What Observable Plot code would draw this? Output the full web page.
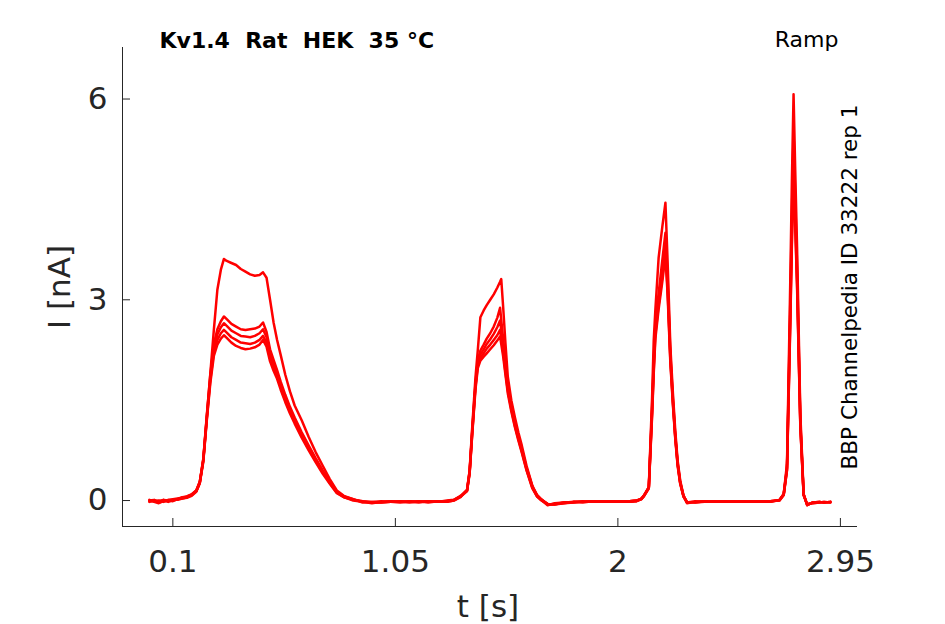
<!DOCTYPE html>
<html><head><meta charset="utf-8">
<script src="https://cdn.jsdelivr.net/npm/d3@7"></script>
<script src="https://cdn.jsdelivr.net/npm/@observablehq/plot@0.6"></script>
<style>
html,body{margin:0;padding:0;background:#fff;}
svg text{white-space:pre;}
</style></head><body><div id="chart"></div>
<script>
// time [s]
const time = [
0, 0.02, 0.04, 0.06, 0.08, 0.10, 0.12, 0.14, 0.16, 0.18,
0.20, 0.215, 0.23, 0.245, 0.26, 0.275, 0.29, 0.305, 0.318, 0.33,
0.35, 0.37, 0.39, 0.41, 0.43, 0.45, 0.47, 0.485, 0.50, 0.515,
0.53, 0.545, 0.56, 0.58, 0.60, 0.62, 0.65, 0.68, 0.71, 0.74,
0.77, 0.80, 0.83, 0.87, 0.91, 0.95, 0.99, 1.03, 1.07, 1.11,
1.15, 1.19, 1.23, 1.27, 1.30, 1.328, 1.356, 1.367, 1.378, 1.392,
1.402, 1.413, 1.427, 1.44, 1.455, 1.47, 1.485, 1.497, 1.502, 1.51,
1.52, 1.53, 1.545, 1.56, 1.575, 1.59, 1.61, 1.635, 1.655, 1.67,
1.70, 1.73, 1.77, 1.81, 1.85, 1.89, 1.93, 1.97, 2.01, 2.05,
2.08, 2.10, 2.11, 2.132, 2.146, 2.153, 2.16, 2.174, 2.19, 2.203,
2.212, 2.224, 2.235, 2.245, 2.255, 2.266, 2.28, 2.295, 2.33, 2.37,
2.41, 2.45, 2.49, 2.53, 2.57, 2.61, 2.65, 2.69, 2.708, 2.722,
2.736, 2.743, 2.75, 2.757, 2.765, 2.779, 2.793, 2.808, 2.83, 2.86,
2.88, 2.907];

// current [nA], one array per sweep
const sweep1 = [
0.00,-0.02,-0.04,-0.01,0.00,0.02,0.03,0.04,0.06,0.09,
0.15,0.28,0.62,1.25,1.90,2.55,3.15,3.45,3.61,3.58,
3.55,3.52,3.46,3.42,3.38,3.36,3.37,3.41,3.33,3.00,
2.66,2.40,2.18,1.88,1.63,1.42,1.20,0.95,0.72,0.52,
0.32,0.15,0.07,0.02,-0.02,-0.03,-0.02,-0.01,-0.02,-0.01,
-0.02,-0.01,-0.02,-0.01,0.01,0.06,0.16,0.45,1.09,1.84,
2.25,2.74,2.84,2.92,3.00,3.08,3.18,3.27,3.31,2.90,
2.35,1.85,1.50,1.25,1.02,0.82,0.52,0.22,0.08,0.03,
-0.06,-0.05,-0.03,-0.02,-0.02,-0.01,-0.02,-0.01,-0.02,-0.01,
0.00,0.03,0.07,0.20,1.54,2.39,2.85,3.63,4.10,4.45,
3.60,2.30,1.60,1.04,0.60,0.30,0.08,-0.03,-0.02,-0.01,
-0.02,-0.01,-0.02,-0.01,-0.02,-0.01,-0.01,0.01,0.10,0.55,
3.28,4.80,6.07,4.95,3.78,1.29,0.10,-0.07,-0.03,-0.02,
-0.03,-0.02];
const sweep2 = [
-0.01,0.00,-0.02,0.01,-0.01,0.00,0.02,0.03,0.05,0.08,
0.14,0.27,0.62,1.28,1.88,2.34,2.56,2.68,2.75,2.71,
2.64,2.60,2.56,2.55,2.56,2.57,2.60,2.66,2.52,2.26,
2.10,1.95,1.78,1.58,1.40,1.24,1.02,0.82,0.63,0.45,
0.28,0.13,0.06,0.01,-0.01,-0.02,-0.03,-0.02,-0.01,-0.02,
-0.01,-0.03,-0.01,-0.02,0.00,0.06,0.16,0.44,1.05,1.75,
2.10,2.24,2.33,2.42,2.50,2.60,2.73,2.88,2.70,2.42,
2.05,1.72,1.42,1.18,0.96,0.77,0.49,0.21,0.07,0.02,
-0.05,-0.06,-0.04,-0.03,-0.01,-0.02,-0.01,-0.02,-0.01,-0.02,
-0.01,0.02,0.06,0.20,1.40,2.10,2.62,3.10,3.60,4.00,
3.35,2.20,1.52,0.98,0.57,0.28,0.07,-0.02,-0.03,-0.02,
-0.01,-0.02,-0.01,-0.02,-0.01,-0.02,-0.01,0.00,0.09,0.50,
2.95,4.30,5.50,4.55,3.50,1.20,0.09,-0.06,-0.04,-0.03,
-0.02,-0.03];
const sweep3 = [
0.01,-0.01,0.00,-0.02,0.01,0.01,0.02,0.05,0.06,0.09,
0.15,0.28,0.60,1.25,1.84,2.28,2.48,2.59,2.65,2.61,
2.54,2.50,2.46,2.45,2.44,2.46,2.50,2.56,2.44,2.20,
2.04,1.90,1.74,1.54,1.37,1.21,0.99,0.79,0.61,0.43,
0.27,0.13,0.06,0.02,-0.03,-0.02,-0.01,-0.02,-0.03,-0.01,
-0.02,-0.01,-0.02,0.00,0.01,0.07,0.15,0.42,1.02,1.72,
2.06,2.18,2.26,2.34,2.41,2.49,2.59,2.69,2.55,2.32,
1.98,1.68,1.39,1.15,0.94,0.75,0.48,0.20,0.08,0.02,
-0.07,-0.04,-0.03,-0.02,-0.03,-0.01,-0.02,-0.01,-0.02,-0.01,
0.00,0.03,0.07,0.19,1.35,2.02,2.55,3.00,3.45,3.85,
3.25,2.15,1.48,0.96,0.55,0.27,0.07,-0.04,-0.02,-0.01,
-0.02,-0.01,-0.02,-0.01,-0.02,-0.01,-0.02,0.01,0.10,0.48,
2.80,4.10,5.20,4.35,3.35,1.15,0.09,-0.07,-0.03,-0.02,
-0.03,-0.02];
const sweep4 = [
0.00,0.01,-0.03,0.00,-0.02,0.01,0.01,0.03,0.04,0.07,
0.13,0.26,0.60,1.22,1.80,2.22,2.40,2.50,2.55,2.51,
2.44,2.40,2.36,2.35,2.34,2.36,2.40,2.46,2.36,2.14,
1.99,1.86,1.70,1.50,1.33,1.18,0.96,0.77,0.59,0.42,
0.26,0.12,0.05,0.00,-0.02,-0.04,-0.02,-0.01,-0.02,-0.03,
-0.01,-0.02,-0.01,-0.02,0.00,0.05,0.15,0.42,1.00,1.70,
2.02,2.13,2.20,2.27,2.33,2.40,2.47,2.55,2.42,2.22,
1.92,1.64,1.36,1.12,0.92,0.73,0.46,0.19,0.06,0.01,
-0.06,-0.05,-0.04,-0.02,-0.02,-0.02,-0.01,-0.02,-0.01,-0.02,
-0.01,0.02,0.06,0.19,1.30,1.95,2.48,2.92,3.35,3.74,
3.17,2.10,1.45,0.94,0.54,0.26,0.06,-0.03,-0.01,-0.02,
-0.01,-0.02,-0.01,-0.02,-0.01,-0.02,-0.01,0.00,0.08,0.46,
2.70,3.95,5.00,4.20,3.25,1.12,0.08,-0.05,-0.04,-0.03,
-0.02,-0.03];
const sweep5 = [
-0.02,0.00,-0.01,0.01,0.00,-0.01,0.02,0.04,0.05,0.08,
0.14,0.26,0.58,1.20,1.76,2.16,2.33,2.42,2.47,2.43,
2.36,2.31,2.28,2.26,2.27,2.29,2.33,2.40,2.30,2.08,
1.94,1.82,1.66,1.47,1.30,1.15,0.94,0.75,0.57,0.40,
0.25,0.11,0.05,0.01,-0.01,-0.03,-0.03,-0.02,-0.01,-0.02,
-0.03,-0.01,-0.02,-0.01,0.01,0.06,0.14,0.40,0.98,1.66,
1.98,2.09,2.15,2.20,2.26,2.32,2.39,2.45,2.34,2.16,
1.88,1.60,1.33,1.10,0.90,0.71,0.45,0.18,0.06,0.02,
-0.05,-0.06,-0.03,-0.03,-0.02,-0.01,-0.02,-0.01,-0.02,-0.01,
0.00,0.02,0.06,0.18,1.26,1.90,2.42,2.86,3.28,3.66,
3.10,2.06,1.42,0.92,0.52,0.25,0.06,-0.02,-0.03,-0.01,
-0.02,-0.01,-0.02,-0.01,-0.02,-0.01,-0.02,0.01,0.09,0.45,
2.62,3.85,4.90,4.10,3.18,1.10,0.08,-0.06,-0.03,-0.02,
-0.03,-0.02];

const xTicks = [0.1, 1.05, 2, 2.95];
const yTicks = [0, 3, 6];
const xDomain = [-0.115, 3.023];
const yDomain = [-0.388, 6.77];
const titleText = "Kv1.4  Rat  HEK  35 °C";
const protocolText = "Ramp";
const sideText = "BBP Channelpedia ID 33222 rep 1";
const xLabel = "t [s]";
const yLabel = "I [nA]";

const sweeps = [sweep1, sweep2, sweep3, sweep4, sweep5];
const rows = sweeps.flatMap((s, k) => s.map((v, i) => ({t: time[i], I: v, sweep: k})));

const W = 945, H = 624, mL = 122, mR = 88, mT = 47, mB = 98;
const frameW = W - mL - mR, frameH = H - mT - mB;
const ink = "#262626";

const chart = Plot.plot({
  width: W, height: H,
  marginLeft: mL, marginRight: mR, marginTop: mT, marginBottom: mB,
  style: {fontFamily: "DejaVu Sans", background: "#fff", color: ink},
  x: {domain: xDomain},
  y: {domain: yDomain},
  marks: [
    Plot.line(rows, {x: "t", y: "I", z: "sweep", stroke: "#ff0000", strokeWidth: 2.5}),
    Plot.ruleX([xDomain[0]], {stroke: ink, strokeWidth: 1}),
    Plot.ruleY([yDomain[0]], {stroke: ink, strokeWidth: 1}),
    Plot.tickX(xTicks, {x: d => d, insetTop: frameH - 8, stroke: ink}),
    Plot.tickY(yTicks, {y: d => d, insetRight: frameW - 8, stroke: ink}),
    Plot.axisX({ticks: xTicks, tickSize: 0, tickPadding: 23, fontSize: 31, label: null, fill: ink, tickFormat: d => String(d)}),
    Plot.axisY({ticks: yTicks, tickSize: 0, tickPadding: 15, fontSize: 31, label: null, fill: ink, tickFormat: d => String(d)}),
    Plot.text([xLabel], {frameAnchor: "bottom", textAnchor: "middle", lineAnchor: "bottom", dx: -2, dy: 90, fontSize: 31, fill: ink}),
    Plot.text([yLabel], {frameAnchor: "left", textAnchor: "middle", rotate: -90, dx: -62, fontSize: 31, fill: ink}),
    Plot.text([titleText], {frameAnchor: "top-left", textAnchor: "start", lineAnchor: "bottom", dx: 37, dy: 0, fontSize: 22, fontWeight: "bold", fill: "#000"}),
    Plot.text([protocolText], {frameAnchor: "top-right", textAnchor: "end", lineAnchor: "bottom", dx: -19, dy: -1, fontSize: 22, fill: "#000"}),
    Plot.text([sideText], {frameAnchor: "right", textAnchor: "middle", rotate: -90, dx: -7, fontSize: 21.5, fill: "#000"})
  ]
});
document.getElementById("chart").appendChild(chart);
</script>
</body></html>
